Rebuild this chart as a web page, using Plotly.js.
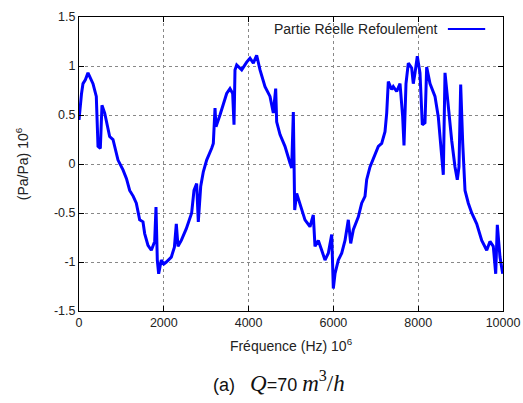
<!DOCTYPE html>
<html><head><meta charset="utf-8">
<script src="https://cdn.plot.ly/plotly-3.0.1.min.js"></script>
<style>html,body{margin:0;padding:0;background:#fff;}#chart{width:523px;height:403px;}</style>
</head><body><div id="chart"></div>
<script>
const freq = [0,16,60,94,150,212,270,330,408,448,503,542,606,660,723,802,860,920,1038,1120,1195,1280,1352,1431,1509,1549,1627,1706,1785,1816,1847,1879,1941,2000,2059,2177,2250,2295,2335,2413,2531,2600,2657,2712,2775,2814,2870,2932,3011,3129,3168,3208,3231,3325,3404,3483,3561,3624,3656,3679,3719,3837,3955,4033,4112,4190,4269,4387,4505,4583,4639,4662,4741,4858,4976,5016,5055,5087,5134,5212,5330,5448,5526,5566,5644,5724,5802,5880,5960,5998,6038,6116,6196,6274,6352,6408,6470,6588,6667,6745,6785,6863,6941,7059,7139,7217,7257,7295,7375,7413,7493,7571,7634,7665,7712,7767,7846,7884,7925,7979,8042,8097,8160,8200,8278,8396,8474,8554,8592,8632,8710,8790,8868,8922,8962,9002,9050,9104,9182,9262,9380,9498,9616,9693,9771,9828,9866,9929,9993];
const realPart = [0.45,0.55,0.72,0.82,0.86,0.93,0.88,0.82,0.69,0.18,0.16,0.60,0.52,0.42,0.28,0.25,0.15,0.04,-0.06,-0.15,-0.27,-0.33,-0.40,-0.57,-0.59,-0.71,-0.83,-0.88,-0.79,-0.44,-0.98,-1.12,-0.98,-1.02,-1.00,-0.95,-0.85,-0.61,-0.84,-0.78,-0.66,-0.58,-0.50,-0.27,-0.20,-0.59,-0.23,-0.08,0.04,0.16,0.21,0.57,0.38,0.50,0.62,0.72,0.77,0.72,0.40,0.96,1.01,0.96,1.04,1.08,1.03,1.11,0.96,0.79,0.69,0.52,0.77,0.43,0.30,0.18,0.01,-0.04,0.53,-0.47,-0.30,-0.40,-0.57,-0.64,-0.52,-0.84,-0.78,-0.88,-0.98,-0.91,-0.72,-1.27,-1.12,-0.98,-0.91,-0.78,-0.57,-0.81,-0.67,-0.54,-0.40,-0.33,-0.16,-0.03,0.06,0.18,0.21,0.33,0.52,0.84,0.76,0.79,0.74,0.82,0.48,0.19,0.82,1.03,0.98,0.82,0.93,1.10,0.93,0.40,0.42,0.99,0.82,0.69,0.48,0.11,-0.11,0.93,0.55,0.24,-0.03,-0.16,-0.03,0.81,0.21,-0.27,-0.40,-0.50,-0.61,-0.78,-0.88,-0.79,-0.84,-1.12,-0.62,-0.95,-1.12];
const xTickVals = [0,2000,4000,6000,8000,10000];
const xTickText = ["0","2000","4000","6000","8000","10000"];
const yTickVals = [-1.5,-1,-0.5,0,0.5,1,1.5];
const yTickText = ["-1.5","-1","-0.5","0","0.5","1","1.5"];
const seriesName = "Partie Réelle Refoulement";

const font = {family: "Liberation Sans, Arial, sans-serif", size: 12.5, color: "#222"};
const bigFont = {family: "Liberation Sans, Arial, sans-serif", size: 14, color: "#222"};
const axisCommon = {
  showline: true, linecolor: "#000", linewidth: 1, mirror: "ticks",
  ticks: "inside", ticklen: 5, tickcolor: "#000",
  showgrid: true, gridcolor: "#888", griddash: "dot", gridwidth: 1,
  zeroline: false, tickfont: font
};
const trace = {x: freq, y: realPart, type: "scatter", mode: "lines",
  line: {color: "#0000ff", width: 3}, name: seriesName, showlegend: false};
const serif = "font-family:Liberation Serif, serif;font-size:23px";
const caption = "(a)&nbsp;&nbsp;&nbsp;<span style='" + serif + "'><i>Q</i></span>=70 <span style='" + serif + "'><i>m</i><sup>3</sup>/<i>h</i></span>";
const layout = {
  width: 523, height: 403,
  margin: {l: 79, r: 20, t: 17, b: 92},
  paper_bgcolor: "#fff", plot_bgcolor: "#fff",
  font: font,
  xaxis: Object.assign({}, axisCommon, {range: [0, 10000], tickvals: xTickVals, ticktext: xTickText,
    title: {text: "Fréquence (Hz) 10<sup>6</sup>", font: bigFont, standoff: 12}}),
  yaxis: Object.assign({}, axisCommon, {range: [-1.5, 1.5], tickvals: yTickVals, ticktext: yTickText,
    title: {text: "(Pa/Pa) 10<sup>6</sup>", font: bigFont, standoff: 22}}),
  annotations: [
    {xref: "paper", yref: "paper", x: 0.851, y: 0.959, xanchor: "right", yanchor: "middle",
     text: seriesName, showarrow: false, font: bigFont},
    {xref: "paper", yref: "paper", x: 0.472, y: -0.24, xanchor: "center", yanchor: "middle", showarrow: false,
     text: caption,
     font: {family: "Liberation Sans, Arial, sans-serif", size: 18, color: "#111"}}
  ],
  shapes: [
    {type: "line", xref: "paper", yref: "paper", x0: 0.870, x1: 0.958, y0: 0.959, y1: 0.959,
     line: {color: "#0000ff", width: 2}}
  ]
};
Plotly.newPlot("chart", [trace], layout, {displayModeBar: false, staticPlot: true});
</script></body></html>
